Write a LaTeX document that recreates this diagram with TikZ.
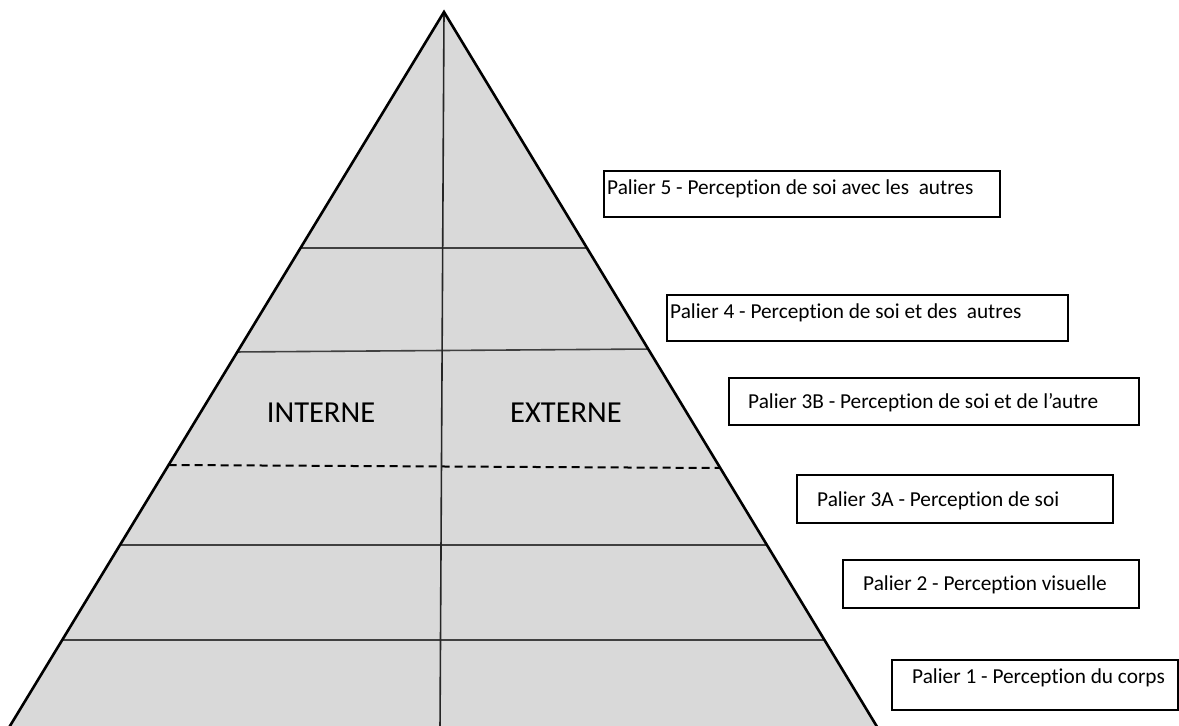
\documentclass[tikz,border=0pt]{standalone}
\usepackage{fontspec}
\setmainfont[Ligatures=NoCommon]{Carlito}
\usetikzlibrary{calc}
\definecolor{pyrfill}{RGB}{217,217,217}
\definecolor{tierline}{RGB}{64,64,64}
\begin{document}
\begin{tikzpicture}[x=1bp,y=-1bp,
  outline/.style={line width=2.6bp, draw=black, line join=miter},
  tier/.style={line width=1.6bp, draw=tierline},
  dashtier/.style={line width=2bp, draw=black, dash pattern=on 8bp off 5bp},
  axis/.style={line width=1.6bp, draw=black!85},
  box/.style={draw=black, line width=2bp, rectangle, inner sep=0pt, anchor=north west},
  lbl/.style={inner sep=0pt, anchor=base west, font=\fontsize{21.3bp}{25bp}\selectfont},
  side/.style={inner sep=0pt, font=\fontsize{30.5bp}{36bp}\selectfont}]
\useasboundingbox (0,0) rectangle (1179,726);
\begin{scope}
\clip (0,0) rectangle (1179,726);
\coordinate (A) at (444,12);
\coordinate (BL) at (7.5,730);
\coordinate (BR) at (879,730);
\coordinate (V) at (440,730);
\fill[pyrfill] (A) -- (BL) -- (BR) -- cycle;
% tiers
\draw[tier] ($(A)!0.3287!(BL)$) -- ($(A)!0.3287!(BR)$);
\draw[tier] ($(A)!0.4735!(BL)$) -- ($(A)!0.4694!(BR)$);
\draw[dashtier] ($(A)!0.6309!(BL)$) -- ($(A)!0.6351!(BR)$);
\draw[tier] ($(A)!0.7423!(BL)$) -- ($(A)!0.7423!(BR)$);
\draw[tier] ($(A)!0.8747!(BL)$) -- ($(A)!0.8747!(BR)$);
% vertical axis
\draw[axis] (A) -- (V);
% outline
\draw[outline] (BL) -- (A) -- (BR);
\end{scope}
\node[side] (int) at (321,413) {INTERNE};
\node[side] (ext) at (566,413) {EXTERNE};
% boxes
\node[box, minimum width=396bp, minimum height=46bp] (b5) at (603,170) {};
\node[lbl] (t5) at (607,195) {Palier 5 - Perception de soi avec les\ \ autres};
\node[box, minimum width=401bp, minimum height=46bp] (b4) at (666,294) {};
\node[lbl] (t4) at (670,318) {Palier 4 - Perception de soi et des\ \ autres};
\node[box, minimum width=410bp, minimum height=47bp] (b3b) at (728,377) {};
\node[lbl] (t3b) at (748,408) {Palier 3B - Perception de soi et de l’autre};
\node[box, minimum width=316bp, minimum height=48bp] (b3a) at (796,474) {};
\node[lbl] (t3a) at (817,506) {Palier 3A - Perception de soi};
\node[box, minimum width=296bp, minimum height=48bp] (b2) at (842,559) {};
\node[lbl] (t2) at (863,590) {Palier 2 - Perception visuelle};
\node[box, minimum width=286bp, minimum height=50bp] (b1) at (891,659) {};
\node[lbl] (t1) at (912,683) {Palier 1 - Perception du corps};
\end{tikzpicture}
\end{document}
